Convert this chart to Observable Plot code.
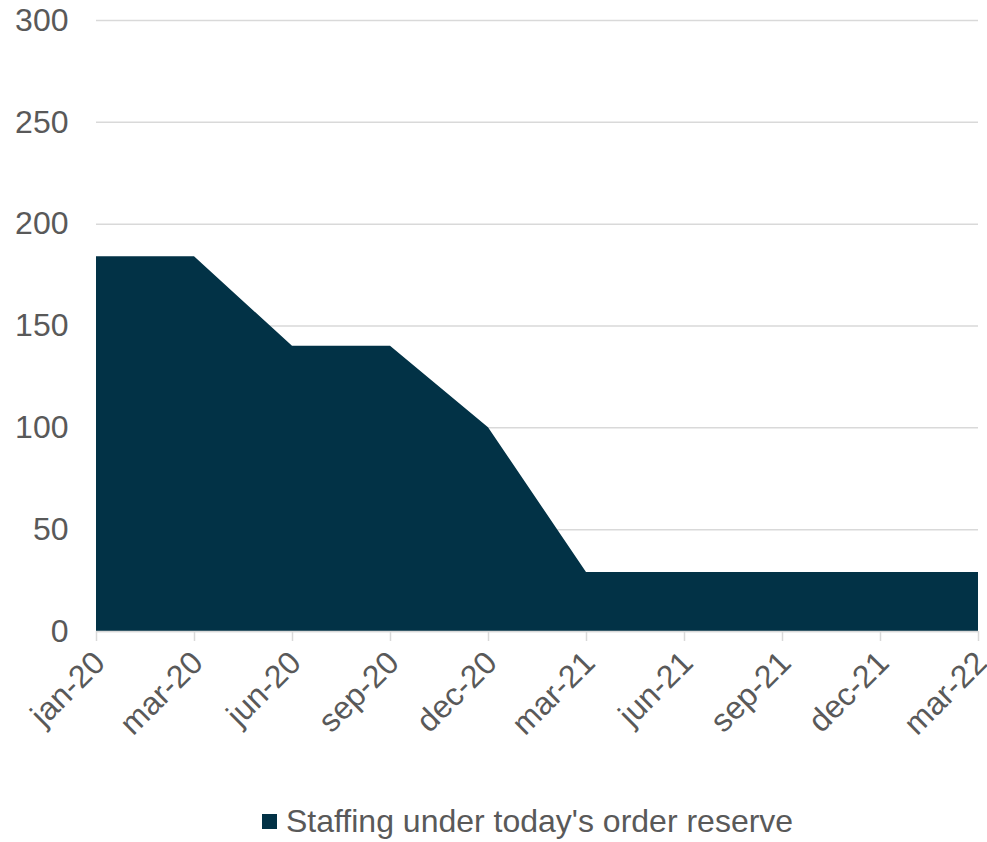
<!DOCTYPE html>
<html><head><meta charset="utf-8">
<script src="https://cdn.jsdelivr.net/npm/d3@7"></script>
<script src="https://cdn.jsdelivr.net/npm/@observablehq/plot@0.6"></script>
<style>
html,body{margin:0;padding:0;background:#fff;}
body{font-family:"Liberation Sans",Arial,sans-serif;width:987px;height:842px;overflow:hidden;}
#chart svg{display:block;}
#legend{display:flex;align-items:center;margin-left:262px;height:40px;margin-top:31px;color:#595959;font-size:32px;line-height:40px;}
#legend .sw{width:15px;height:15px;margin-right:9px;}
</style></head><body>
<div id="chart"></div>
<div id="legend"></div>
<script>
const months = ["jan-20","mar-20","jun-20","sep-20","dec-20","mar-21","jun-21","sep-21","dec-21","mar-22"];
const values = [184,184,140,140,100,29,29,29,29,29];
const yTicks = [0,50,100,150,200,250,300];
const seriesName = "Staffing under today's order reserve";
const seriesColor = "#023246";
const data = months.map((m,i)=>({month:m,value:values[i]}));

const plot = Plot.plot({
  width:987, height:770,
  marginTop:20, marginLeft:96, marginRight:9, marginBottom:139,
  style:{fontFamily:"Liberation Sans, Arial, sans-serif", fontSize:"32px", color:"#595959", background:"white", overflow:"visible"},
  x:{type:"point", domain:months, padding:0},
  y:{domain:[0,300], ticks:yTicks},
  marks:[
    Plot.gridY(yTicks,{stroke:"#d9d9d9", strokeOpacity:1, strokeWidth:1.5}),
    Plot.areaY(data,{x:"month", y:"value", fill:seriesColor, curve:"linear"}),
    Plot.ruleY([0],{stroke:"#d9d9d9", strokeWidth:1.5}),
    Plot.axisY(yTicks,{tickSize:0, tickPadding:28, fontSize:32, fill:"#595959", label:null}),
    Plot.axisX({tickSize:10, stroke:"#d9d9d9", strokeWidth:1.5, strokeOpacity:1, text:null, label:null}),
    Plot.axisX({tickSize:0, tickRotate:-45, tickPadding:26, dx:3, fill:"#595959", fontSize:32, label:null})
  ]
});
document.getElementById("chart").appendChild(plot);
const lg = document.getElementById("legend");
const sw = document.createElement("span"); sw.className="sw"; sw.style.background=seriesColor;
const tx = document.createElement("span"); tx.textContent=seriesName;
lg.appendChild(sw); lg.appendChild(tx);
</script>
</body></html>
